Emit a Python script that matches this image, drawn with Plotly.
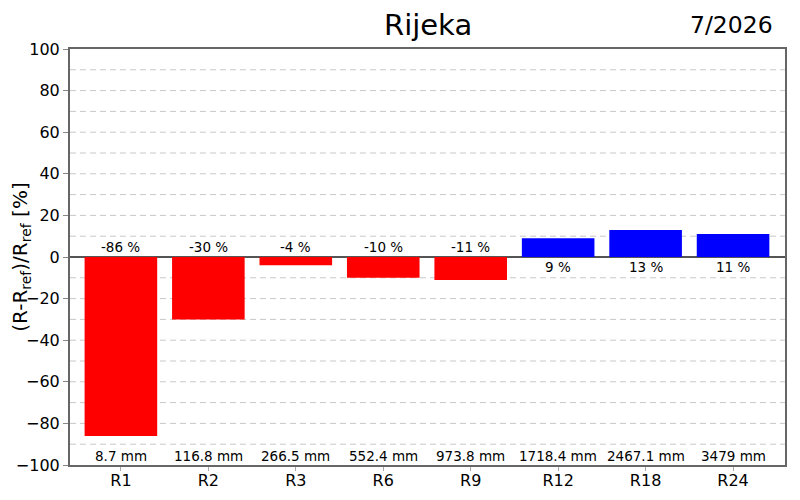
import plotly.graph_objects as go

categories = ["R1", "R2", "R3", "R6", "R9", "R12", "R18", "R24"]
values = [-86, -30, -4, -10, -11, 9, 13, 11]
amounts = ["8.7 mm", "116.8 mm", "266.5 mm", "552.4 mm", "973.8 mm", "1718.4 mm", "2467.1 mm", "3479 mm"]
title_text = "Rijeka"
date_text = "7/2026"

colors = ["#ff0000" if v < 0 else "#0000ff" for v in values]

fig = go.Figure()
fig.add_trace(go.Bar(x=categories, y=values, marker=dict(color=colors, line=dict(width=0)),
                     hoverinfo="skip", showlegend=False))

font_family = "DejaVu Sans"
for c, v, a in zip(categories, values, amounts):
    fig.add_annotation(x=c, y=5 if v < 0 else -5, text=f"{v} %", showarrow=False,
                       font=dict(family=font_family, size=13.5, color="black"), yanchor="middle")
    fig.add_annotation(x=c, y=-95.5, text=a, showarrow=False,
                       font=dict(family=font_family, size=13.5, color="black"), yanchor="middle")

fig.add_annotation(xref="paper", yref="paper", x=0.5, y=1.0, yshift=24, text=title_text,
                   showarrow=False, font=dict(family=font_family, size=29, color="black"), yanchor="middle")
fig.add_annotation(xref="paper", yref="paper", x=1.0, y=1.0, yshift=24, xshift=-10, text=date_text,
                   showarrow=False, font=dict(family=font_family, size=23.5, color="black"),
                   xanchor="right", yanchor="middle")

fig.update_layout(
    autosize=True,
    margin=dict(l=62, r=7, t=41, b=27, autoexpand=False),
    plot_bgcolor="white", paper_bgcolor="white",
    bargap=0.17,
    font=dict(family=font_family, size=16, color="black"),
    yaxis=dict(range=[-100, 100], tickvals=list(range(-100, 101, 20)),
               showgrid=False, zeroline=True, zerolinecolor="#555555", zerolinewidth=1.5,
               showline=True, linecolor="#666666", linewidth=2, mirror=True,
               ticks="outside", ticklen=5, tickcolor="#888888", automargin=False,
               title=dict(text="(R-R<sub>ref</sub>)/R<sub>ref</sub> [%]",
                          font=dict(family=font_family, size=20), standoff=18),
               tickfont=dict(family=font_family, size=16)),
    xaxis=dict(range=[-0.582, 7.594],
               showline=True, linecolor="#666666", linewidth=2, mirror=True,
               ticks="outside", ticklen=4, tickcolor="#aaaaaa", automargin=False,
               ticklabelstandoff=-4,
               tickfont=dict(family=font_family, size=16)),
)

for g in range(-90, 100, 10):
    if g == 0:
        continue
    fig.add_shape(type="line", xref="paper", yref="y", x0=0, x1=1, y0=g, y1=g,
                  line=dict(color="#c8c8c8", width=1, dash="6px,4px"), layer="below")

fig.write_html("out.html", default_width="100%", default_height="100%")
